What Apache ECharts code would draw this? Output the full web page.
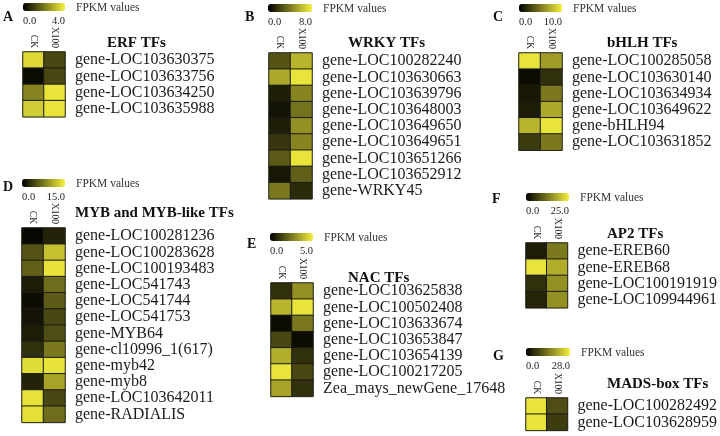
<!DOCTYPE html>
<html><head><meta charset="utf-8">
<script src="https://cdn.jsdelivr.net/npm/echarts@6/dist/echarts.min.js"></script>
<style>html,body{margin:0;padding:0;background:#fff}#c{width:720px;height:436px}</style>
</head><body><div id="c"></div>
<script>
const columns = ['CK', 'X100'];

const erfGenes = ['gene-LOC103630375','gene-LOC103633756','gene-LOC103634250','gene-LOC103635988'];
const erfValues = [[3.6,1.2],[0.2,1.2],[2.2,3.8],[3.4,3.8]];

const wrkyGenes = ['gene-LOC100282240','gene-LOC103630663','gene-LOC103639796','gene-LOC103648003','gene-LOC103649650','gene-LOC103649651','gene-LOC103651266','gene-LOC103652912','gene-WRKY45'];
const wrkyValues = [[2.8,6.0],[5.6,7.6],[1.0,4.4],[0.6,3.8],[1.0,4.8],[1.8,4.4],[3.0,7.6],[0.8,3.2],[4.0,1.4]];

const bhlhGenes = ['gene-LOC100285058','gene-LOC103630140','gene-LOC103634934','gene-LOC103649622','gene-bHLH94','gene-LOC103631852'];
const bhlhValues = [[9.5,6.5],[0.5,2.0],[1.0,5.0],[1.2,7.0],[7.5,9.5],[2.5,5.0]];

const mybGenes = ['gene-LOC100281236','gene-LOC100283628','gene-LOC100193483','gene-LOC541743','gene-LOC541744','gene-LOC541753','gene-MYB64','gene-cl10996_1(617)','gene-myb42','gene-myb8','gene-LOC103642011','gene-RADIALIS'];
const mybValues = [[0.5,2.2],[5.2,12.0],[6.0,14.2],[1.8,6.8],[0.8,5.7],[1.2,4.5],[1.8,4.8],[3.0,7.5],[13.8,14.2],[2.2,10.2],[14.2,4.5],[14.0,6.8]];

const nacGenes = ['gene-LOC103625838','gene-LOC100502408','gene-LOC103633674','gene-LOC103653847','gene-LOC103654139','gene-LOC100217205','Zea_mays_newGene_17648'];
const nacValues = [[1.0,3.0],[3.75,4.75],[0.25,2.5],[1.5,0.25],[3.6,1.0],[4.75,1.5],[3.4,1.0]];

const ap2Genes = ['gene-EREB60','gene-EREB68','gene-LOC100191919','gene-LOC109944961'];
const ap2Values = [[3.0,12.5],[23.8,18.0],[5.0,15.0],[3.8,15.0]];

const madsGenes = ['gene-LOC100282492','gene-LOC103628959'];
const madsValues = [[26.6,9.0],[26.6,7.0]];

const panelLetters = ['A','B','C','D','E','F','G'];
const panelTitles = ['ERF TFs','WRKY TFs','bHLH TFs','MYB and MYB-like TFs','NAC TFs','AP2 TFs','MADS-box TFs'];
const scaleMax = [4, 8, 10, 15, 5, 25, 28];
const legendName = 'FPKM values';

const genesList = [erfGenes, wrkyGenes, bhlhGenes, mybGenes, nacGenes, ap2Genes, madsGenes];
const valuesList = [erfValues, wrkyValues, bhlhValues, mybValues, nacValues, ap2Values, madsValues];

// layout (positions only)
const ROW = 16.2;
const layout = [
  {letter:[3,17],  bar:[23,3,42],   title:[107,42], grid:[23,52,42]},
  {letter:[245,17],bar:[268,4,44],  title:[348,42], grid:[269,53,43]},
  {letter:[493,17],bar:[519,4,43],  title:[607,42], grid:[519,53,43]},
  {letter:[3,187], bar:[22,179,43], title:[75,212], grid:[22,228,43]},
  {letter:[247,244],bar:[270,233,43],title:[348,277],grid:[271,283,42]},
  {letter:[492,199],bar:[526,193,43],title:[607,233],grid:[526,243,43]},
  {letter:[493,356],bar:[526,348,44],title:[607,383],grid:[526,398,44]}
];

const serif = '"Liberation Serif","Times New Roman",serif';
const grids = [], xAxes = [], yAxes = [], series = [], visualMaps = [], graphics = [];

layout.forEach((L, i) => {
  const genes = genesList[i];
  grids.push({left: L.grid[0], top: L.grid[1], width: L.grid[2], height: ROW * genes.length});
  xAxes.push({
    type: 'category', gridIndex: i, data: columns, position: 'top',
    axisLine: {show: false}, axisTick: {show: false}, splitLine: {show: false},
    axisLabel: {interval: 0, rotate: 90, margin: 4, fontFamily: serif, fontSize: 9.5, color: '#222'}
  });
  yAxes.push({
    type: 'category', gridIndex: i, data: genes, inverse: true, position: 'right',
    axisLine: {show: false}, axisTick: {show: false}, splitLine: {show: false},
    axisLabel: {interval: 0, margin: 10, fontFamily: serif, fontSize: 16, color: '#1a1a1a'}
  });
  const data = [];
  valuesList[i].forEach((row, r) => row.forEach((v, c) => data.push([c, r, v])));
  series.push({
    type: 'heatmap', xAxisIndex: i, yAxisIndex: i, data: data,
    itemStyle: {borderColor: '#1c1c14', borderWidth: 1},
    emphasis: {disabled: true}
  });
  visualMaps.push({
    type: 'continuous', seriesIndex: i, min: 0, max: scaleMax[i],
    orient: 'horizontal', left: L.bar[0], top: L.bar[1], padding: 0,
    itemWidth: 8, itemHeight: L.bar[2], calculable: false, hoverLink: false,
    text: null, showLabel: false,
    inRange: {color: ['#000000', '#f5f03c']}
  });
  graphics.push({type: 'text', x: L.letter[0], y: L.letter[1], style: {
    text: panelLetters[i], fontFamily: serif, fontSize: 14, fontWeight: 'bold', fill: '#111',
    align: 'left', verticalAlign: 'middle'}});
  graphics.push({type: 'text', x: L.bar[0] + L.bar[2] + 11, y: L.bar[1] + 5, style: {
    text: legendName, fontFamily: serif, fontSize: 11.5, fill: '#333',
    align: 'left', verticalAlign: 'middle'}});
  graphics.push({type: 'text', x: L.bar[0], y: L.bar[1] + 18, style: {
    text: (0).toFixed(1), fontFamily: serif, fontSize: 10.5, fill: '#222',
    align: 'left', verticalAlign: 'middle'}});
  graphics.push({type: 'text', x: L.bar[0] + L.bar[2], y: L.bar[1] + 18, style: {
    text: scaleMax[i].toFixed(1), fontFamily: serif, fontSize: 10.5, fill: '#222',
    align: 'right', verticalAlign: 'middle'}});
  graphics.push({type: 'text', x: L.title[0], y: L.title[1] + 1, style: {
    text: panelTitles[i], fontFamily: serif, fontSize: 15, fontWeight: 'bold', fill: '#111',
    align: 'left', verticalAlign: 'middle'}});
});

const chart = echarts.init(document.getElementById('c'), null, {renderer: 'canvas'});
chart.setOption({
  animation: false,
  backgroundColor: '#ffffff',
  grid: grids, xAxis: xAxes, yAxis: yAxes,
  visualMap: visualMaps, series: series, graphic: graphics
});
</script></body></html>
